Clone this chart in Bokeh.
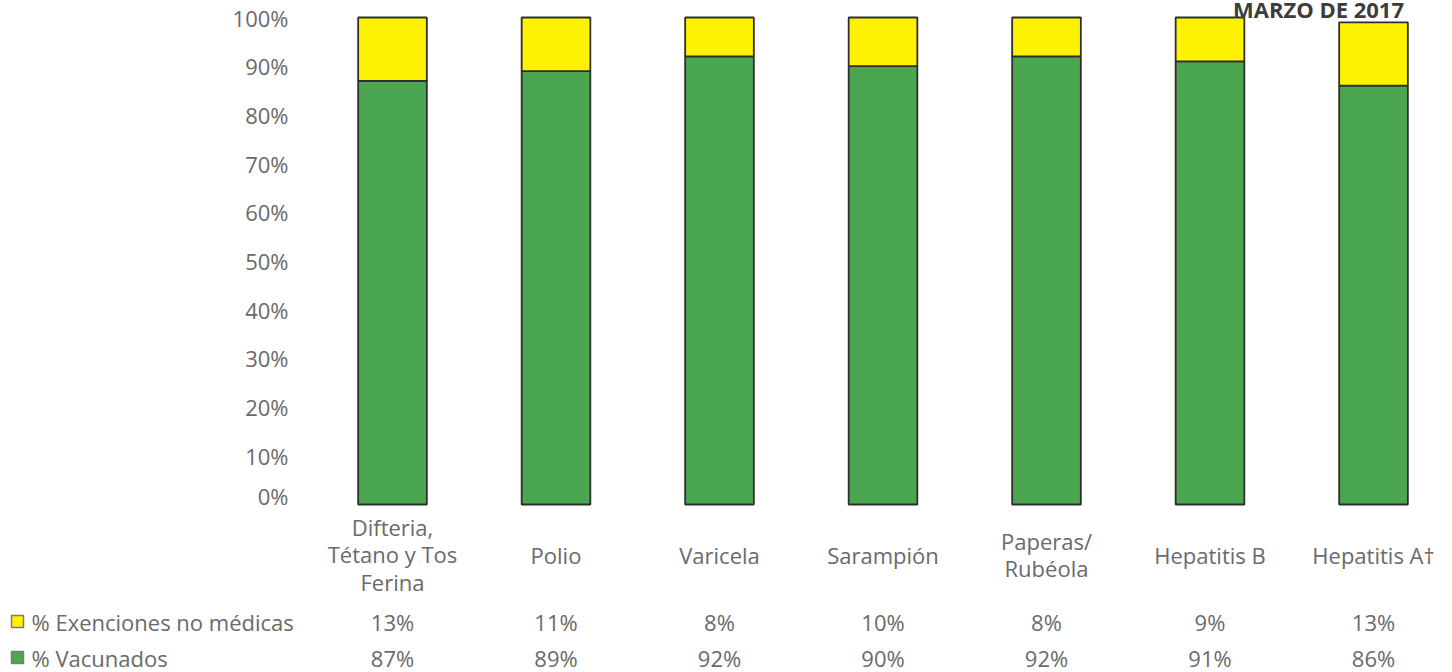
import numpy as np
from bokeh.plotting import figure
from bokeh.models import Range1d, FixedTicker, ColumnDataSource
from bokeh.layouts import column
from bokeh.embed import file_html
from bokeh.resources import INLINE
from bokeh.core.properties import value

# ---------------- data ----------------
categories = ["Difteria,\nTétano y Tos\nFerina", "Polio", "Varicela", "Sarampión",
              "Paperas/\nRubéola", "Hepatitis B", "Hepatitis A\u2020"]
vacunados = [87, 89, 92, 90, 92, 91, 86]
exenciones = [13, 11, 8, 10, 8, 9, 13]
series_labels = ["% Exenciones no médicas", "% Vacunados"]
y_ticks = [0, 10, 20, 30, 40, 50, 60, 70, 80, 90, 100]
chart_title = "MARZO DE 2017"

# ---------------- style ----------------
GREEN = "#4aa64f"
YELLOW = "#fff200"
OUTLINE = "#2e2e2e"
TEXT = "#6a6a6a"
TITLE_C = "#3c3c3c"
FONT = "Open Sans"
FS = "22px"

W = 1452
LEFT = 309          # left border of bar frame inside figure
PXU = 163.5         # pixels per category
C0 = 392            # page x of first category centre
TOP_H = 510
BOT_H = 162

idx = np.arange(len(categories))
top = [v + e for v, e in zip(vacunados, exenciones)]

src = ColumnDataSource(dict(x=idx, vac=vacunados, exe=exenciones, top=top,
                            cat=categories,
                            vac_lbl=[f"{v}%" for v in vacunados],
                            exe_lbl=[f"{e}%" for e in exenciones]))

# ---------------- top figure: bars ----------------
x_start_top = -(C0 - LEFT) / PXU
x_end = x_start_top + (W - LEFT) / PXU
ppu = 4.87            # px per percent
y100 = 17             # page y of 100%
y_end = 100 + y100 / ppu
frame_h = TOP_H - 4
y_start = y_end - frame_h / ppu

p = figure(width=W, height=TOP_H, output_backend="svg", toolbar_location=None,
           x_range=Range1d(x_start_top, x_end), y_range=Range1d(y_start, y_end),
           min_border_left=LEFT, min_border_right=0, min_border_top=0,
           min_border_bottom=4, frame_align=False)
p.outline_line_color = None
p.xgrid.visible = False
p.ygrid.visible = False
p.xaxis.visible = False
ya = p.yaxis[0]
ya.ticker = FixedTicker(ticks=y_ticks)
ya.major_label_overrides = {t: f"{t}%" for t in y_ticks}
ya.axis_line_color = None
ya.major_tick_line_color = None
ya.minor_tick_line_color = None
ya.major_tick_out = 0
ya.major_tick_in = 0
ya.major_label_standoff = 21
ya.major_label_text_font = FONT
ya.major_label_text_font_size = FS
ya.major_label_text_color = TEXT

p.vbar(x="x", width=0.42, bottom=0, top="vac", source=src,
       fill_color=GREEN, line_color=OUTLINE, line_width=1.8)
p.vbar(x="x", width=0.42, bottom="vac", top="top", source=src,
       fill_color=YELLOW, line_color=OUTLINE, line_width=1.8)

title_src = ColumnDataSource(dict(x=[(1318 - C0) / PXU], y=[100 + (y100 - 8) / ppu],
                                  t=[chart_title]))
p.text(x="x", y="y", text="t", source=title_src, text_align="center",
       text_baseline="alphabetic", text_font=value(FONT), text_font_style="bold",
       text_font_size="22px", text_color=TITLE_C)

# ---------------- bottom figure: category labels + data table ----------------
x_start_bot = -C0 / PXU
q = figure(width=W, height=BOT_H, output_backend="svg", toolbar_location=None,
           x_range=Range1d(x_start_bot, x_end), y_range=Range1d(BOT_H, 0),
           min_border_left=0, min_border_right=0, min_border_top=0,
           min_border_bottom=0, frame_align=False)
q.outline_line_color = None
q.axis.visible = False
q.grid.visible = False

def bx(px):
    return x_start_bot + px / PXU

ROW_CAT, ROW_EXE, ROW_VAC = 554 - TOP_H, 621 - TOP_H, 657 - TOP_H

q.text(x="x", y=ROW_CAT, text="cat", source=src, text_align="center",
       text_baseline="middle", text_font=value(FONT), text_font_size=FS,
       text_color=TEXT, text_line_height=0.92)
q.text(x="x", y=ROW_EXE, text="exe_lbl", source=src, text_align="center",
       text_baseline="middle", text_font=value(FONT), text_font_size=FS,
       text_color=TEXT)
q.text(x="x", y=ROW_VAC, text="vac_lbl", source=src, text_align="center",
       text_baseline="middle", text_font=value(FONT), text_font_size=FS,
       text_color=TEXT)

leg = ColumnDataSource(dict(x=[bx(17), bx(17)], y=[ROW_EXE, ROW_VAC],
                            c=[YELLOW, GREEN], tx=[bx(31), bx(31)], t=series_labels))
q.scatter(x="x", y="y", source=leg, marker="square", size=12,
          fill_color="c", line_color="#7a7a7a", line_width=1.5)
q.text(x="tx", y="y", text="t", source=leg, text_align="left",
       text_baseline="middle", text_font=value(FONT), text_font_size=FS,
       text_color=TEXT)

layout = column(p, q, spacing=0)
open("out.html", "w").write(file_html(layout, INLINE))
